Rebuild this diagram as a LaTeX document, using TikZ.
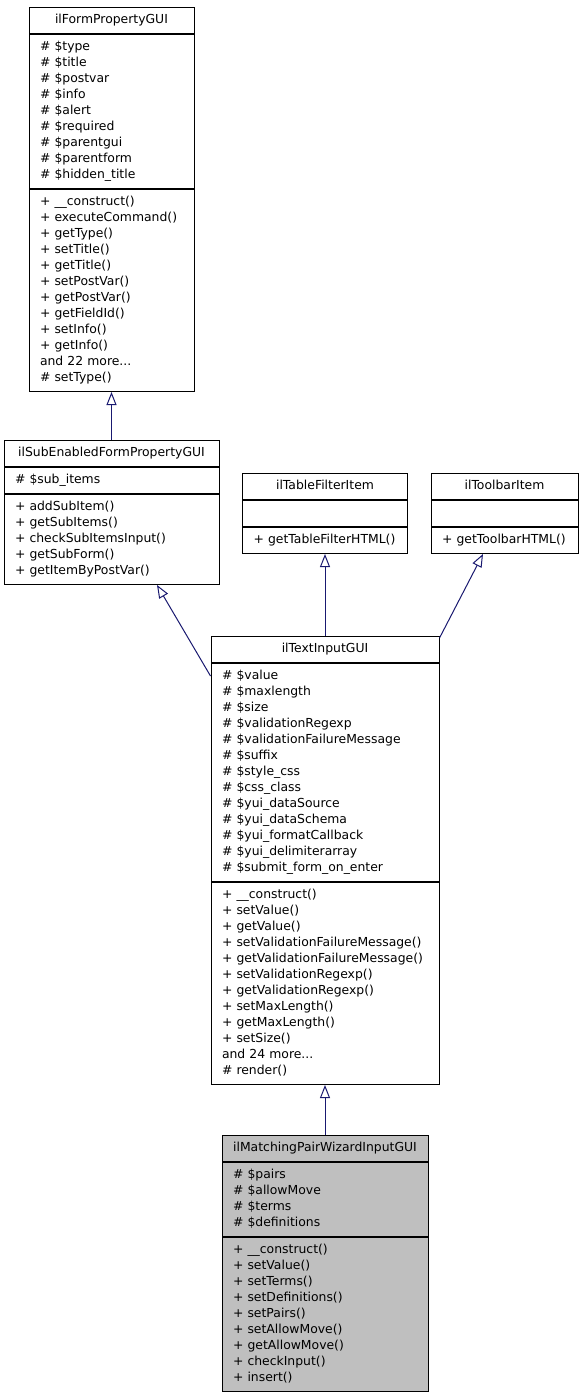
\documentclass[tikz,border=0pt]{standalone}
\usepackage{fontspec}
\setmainfont{DejaVu Sans}
\usetikzlibrary{arrows.meta}
\definecolor{edgeblue}{HTML}{191970}
\definecolor{classgray}{HTML}{BFBFBF}

\begin{document}
\begin{tikzpicture}[x=1pt, y=-1pt,
		every node/.style={font=\fontsize{12.4}{16}\selectfont, line width=1pt, inner xsep=11pt, inner ysep=5pt,
			execute at begin node=\strut, execute at end node=\strut, anchor=north},
		title/.style={draw, fill=white, minimum width=#1},
		part/.style={draw, fill=white, text width=#1, align=left},
		inherit/.style={-{Triangle[open, length=13pt, width=10pt]}, draw=edgeblue, line width=1pt}]
				\path[fill=white] (0, 0) rectangle (584, 1397);
				\node[title=165pt] (fp) at (111.5, 7) {ilFormPropertyGUI};
				\node[part=143pt] (fpa) at (fp.south) {\# \$type\\\# \$title\\\# \$postvar\\\# \$info\\\# \$alert\\\# \$required\\\# \$parentgui\\\# \$parentform\\\# \$hidden\_title};
				\node[part=143pt] (fpm) at (fpa.south) {+ \_\_construct()\\+ executeCommand()\\+ getType()\\+ setTitle()\\+ getTitle()\\+ setPostVar()\\+ getPostVar()\\+ getFieldId()\\+ setInfo()\\+ getInfo()\\and 22 more...\\\# setType()};
				\node[title=215pt] (se) at (111.5, 440) {ilSubEnabledFormPropertyGUI};
				\node[part=193pt] (sea) at (se.south) {\# \$sub\_items};
				\node[part=193pt] (sem) at (sea.south) {+ addSubItem()\\+ getSubItems()\\+ checkSubItemsInput()\\+ getSubForm()\\+ getItemByPostVar()};
				\node[title=165pt] (tf) at (325, 473) {ilTableFilterItem};
				\node[part=143pt] (tfa) at (tf.south) {};
				\node[part=143pt] (tfm) at (tfa.south) {+ getTableFilterHTML()};
				\node[title=147pt] (tb) at (504.5, 473) {ilToolbarItem};
				\node[part=125pt] (tba) at (tb.south) {};
				\node[part=125pt] (tbm) at (tba.south) {+ getToolbarHTML()};
				\node[title=228pt] (ti) at (325, 636) {ilTextInputGUI};
				\node[part=206pt] (tia) at (ti.south) {\# \$value\\\# \$maxlength\\\# \$size\\\# \$validationRegexp\\\# \$validationFailureMessage\\\# \$suffix\\\# \$style\_css\\\# \$css\_class\\\# \$yui\_dataSource\\\# \$yui\_dataSchema\\\# \$yui\_formatCallback\\\# \$yui\_delimiterarray\\\# \$submit\_form\_on\_enter};
				\node[part=206pt] (tim) at (tia.south) {+ \_\_construct()\\+ setValue()\\+ getValue()\\+ setValidationFailureMessage()\\+ getValidationFailureMessage()\\+ setValidationRegexp()\\+ getValidationRegexp()\\+ setMaxLength()\\+ getMaxLength()\\+ setSize()\\and 24 more...\\\# render()};
				\node[title=206pt, fill=classgray] (mp) at (325, 1135) {ilMatchingPairWizardInputGUI};
				\node[part=184pt, fill=classgray] (mpa) at (mp.south) {\# \$pairs\\\# \$allowMove\\\# \$terms\\\# \$definitions};
				\node[part=184pt, fill=classgray] (mpm) at (mpa.south) {+ \_\_construct()\\+ setValue()\\+ setTerms()\\+ setDefinitions()\\+ setPairs()\\+ setAllowMove()\\+ getAllowMove()\\+ checkInput()\\+ insert()};
				\draw[inherit] (se.north) to (fpm.south);
				\draw[inherit] ([yshift=-13pt]tia.north west) to ([xshift=45.5pt]sem.south);
				\draw[inherit] (ti.north) to (tfm.south);
				\draw[inherit] ([yshift=-2pt]ti.north east) to ([xshift=-21.5pt]tbm.south);
				\draw[inherit] (mp.north) to (tim.south);
			\end{tikzpicture}
\end{document}
